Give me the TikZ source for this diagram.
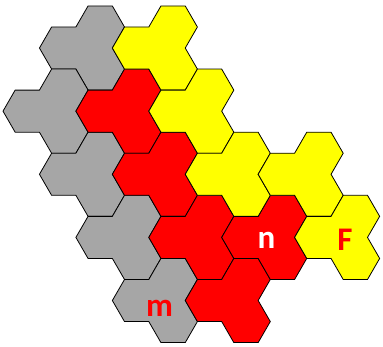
\documentclass[tikz,border=0pt]{standalone}
\usepackage{fontspec}
\setmainfont{Carlito}
\usepackage{xcolor}
\usepackage{tikz}
\usetikzlibrary{positioning,calc}

\definecolor{tilegray}{HTML}{A6A6A6}
\definecolor{tilered}{HTML}{FF0000}
\definecolor{tileyellow}{HTML}{FFFF00}

\begin{document}
\begin{tikzpicture}[x=1pt, y=-1pt,
    tile/.style={draw=black, line width=0.8pt, line join=miter},
    lbl/.style={font=\fontsize{33}{33}\selectfont\bfseries, inner sep=0pt}]
    \useasboundingbox (0,0) rectangle (383,347);

    % Tiles: column/row of the top hexagon, then colour
    \foreach \c/\r/\col in {0/0/tilegray, -1/3/tilegray, 0/6/tilegray, 1/9/tilegray, 2/12/tilegray,
                            1/3/tilered, 2/6/tilered, 3/9/tilered, 4/12/tilered, 5/9/tilered,
                            2/0/tileyellow, 3/3/tileyellow, 4/6/tileyellow, 6/6/tileyellow, 7/9/tileyellow} {
        \pgfmathsetmacro\X{100.2+36.45*\c}
        \pgfmathsetmacro\Y{27+21.04*\r}
        \begin{scope}[shift={(\X,\Y)}]
            \draw[tile, fill=\col] (12.15,-21.04) -- (24.3,0) -- (12.15,21.04) -- (24.3,42.08)
                -- (12.15,63.12) -- (-12.15,63.12) -- (-24.3,42.08) -- (-48.6,42.08)
                -- (-60.75,21.04) -- (-48.6,0) -- (-24.3,0) -- (-12.15,-21.04) -- cycle;
        \end{scope}
    }

    % Labels
    \node[lbl, text=tilered] (mlabel) at (159.5,308) {m};
    \node[lbl, text=white] (nlabel) at (266.5,240.5) {n};
    \node[lbl, text=tilered] (flabel) at (345,239.5) {F};
\end{tikzpicture}
\end{document}
